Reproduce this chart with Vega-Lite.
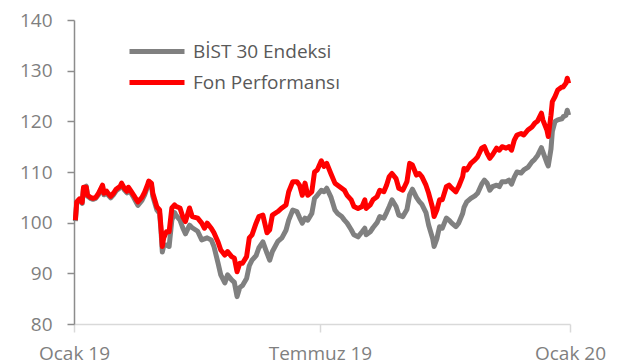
{
  "$schema": "https://vega.github.io/schema/vega-lite/v6.json",
  "width": 496,
  "height": 304,
  "autosize": "none",
  "padding": {"left": 74, "top": 20, "right": 48, "bottom": 40},
  "background": "#ffffff",
  "config": {
    "view": {"stroke": null},
    "font": "Open Sans"
  },
  "data": {
    "values": [
      {"tarih": "2019-01-02", "BİST 30 Endeksi": 100.3, "Fon Performansı": 100.5},
      {"tarih": "2019-01-03", "BİST 30 Endeksi": 103.8, "Fon Performansı": 104.1},
      {"tarih": "2019-01-05", "BİST 30 Endeksi": 104.4, "Fon Performansı": 104.7},
      {"tarih": "2019-01-07", "BİST 30 Endeksi": 103.8, "Fon Performansı": 104.0},
      {"tarih": "2019-01-08", "BİST 30 Endeksi": 106.8, "Fon Performansı": 107.0},
      {"tarih": "2019-01-10", "BİST 30 Endeksi": 107.2, "Fon Performansı": 107.0},
      {"tarih": "2019-01-11", "BİST 30 Endeksi": 105.2, "Fon Performansı": 105.4},
      {"tarih": "2019-01-13", "BİST 30 Endeksi": 104.8, "Fon Performansı": 105.0},
      {"tarih": "2019-01-15", "BİST 30 Endeksi": 104.6, "Fon Performansı": 104.8},
      {"tarih": "2019-01-17", "BİST 30 Endeksi": 104.8, "Fon Performansı": 105.0},
      {"tarih": "2019-01-19", "BİST 30 Endeksi": 105.5, "Fon Performansı": 105.8},
      {"tarih": "2019-01-22", "BİST 30 Endeksi": 107.2, "Fon Performansı": 107.4},
      {"tarih": "2019-01-23", "BİST 30 Endeksi": 105.5, "Fon Performansı": 105.8},
      {"tarih": "2019-01-25", "BİST 30 Endeksi": 106.0, "Fon Performansı": 106.2},
      {"tarih": "2019-01-26", "BİST 30 Endeksi": 105.5, "Fon Performansı": 105.8},
      {"tarih": "2019-01-28", "BİST 30 Endeksi": 104.9, "Fon Performansı": 105.2},
      {"tarih": "2019-01-30", "BİST 30 Endeksi": 105.5, "Fon Performansı": 105.8},
      {"tarih": "2019-02-01", "BİST 30 Endeksi": 106.3, "Fon Performansı": 106.6},
      {"tarih": "2019-02-04", "BİST 30 Endeksi": 106.9, "Fon Performansı": 107.2},
      {"tarih": "2019-02-05", "BİST 30 Endeksi": 107.5, "Fon Performansı": 107.8},
      {"tarih": "2019-02-07", "BİST 30 Endeksi": 106.5, "Fon Performansı": 106.8},
      {"tarih": "2019-02-09", "BİST 30 Endeksi": 105.9, "Fon Performansı": 106.2},
      {"tarih": "2019-02-10", "BİST 30 Endeksi": 106.6, "Fon Performansı": 107.0},
      {"tarih": "2019-02-12", "BİST 30 Endeksi": 105.8, "Fon Performansı": 106.2},
      {"tarih": "2019-02-14", "BİST 30 Endeksi": 104.9, "Fon Performansı": 105.4},
      {"tarih": "2019-02-16", "BİST 30 Endeksi": 103.9, "Fon Performansı": 104.5},
      {"tarih": "2019-02-17", "BİST 30 Endeksi": 103.4, "Fon Performansı": 104.1},
      {"tarih": "2019-02-20", "BİST 30 Endeksi": 104.4, "Fon Performansı": 105.0},
      {"tarih": "2019-02-22", "BİST 30 Endeksi": 105.5, "Fon Performansı": 106.0},
      {"tarih": "2019-02-24", "BİST 30 Endeksi": 107.0, "Fon Performansı": 107.4},
      {"tarih": "2019-02-25", "BİST 30 Endeksi": 107.6, "Fon Performansı": 108.2},
      {"tarih": "2019-02-27", "BİST 30 Endeksi": 107.3, "Fon Performansı": 107.8},
      {"tarih": "2019-02-28", "BİST 30 Endeksi": 105.2, "Fon Performansı": 105.8},
      {"tarih": "2019-03-03", "BİST 30 Endeksi": 102.5, "Fon Performansı": 103.1},
      {"tarih": "2019-03-05", "BİST 30 Endeksi": 101.8, "Fon Performansı": 102.5},
      {"tarih": "2019-03-06", "BİST 30 Endeksi": 98.5, "Fon Performansı": 99.1},
      {"tarih": "2019-03-07", "BİST 30 Endeksi": 94.2, "Fon Performansı": 95.3},
      {"tarih": "2019-03-08", "BİST 30 Endeksi": 95.4, "Fon Performansı": 97.0},
      {"tarih": "2019-03-10", "BİST 30 Endeksi": 95.6, "Fon Performansı": 98.2},
      {"tarih": "2019-03-12", "BİST 30 Endeksi": 95.3, "Fon Performansı": 98.2},
      {"tarih": "2019-03-14", "BİST 30 Endeksi": 100.5, "Fon Performansı": 102.9},
      {"tarih": "2019-03-16", "BİST 30 Endeksi": 102.0, "Fon Performansı": 103.5},
      {"tarih": "2019-03-17", "BİST 30 Endeksi": 101.5, "Fon Performansı": 103.2},
      {"tarih": "2019-03-20", "BİST 30 Endeksi": 100.5, "Fon Performansı": 102.9},
      {"tarih": "2019-03-22", "BİST 30 Endeksi": 99.0, "Fon Performansı": 101.2},
      {"tarih": "2019-03-24", "BİST 30 Endeksi": 97.8, "Fon Performansı": 100.2},
      {"tarih": "2019-03-27", "BİST 30 Endeksi": 99.5, "Fon Performansı": 102.9},
      {"tarih": "2019-03-29", "BİST 30 Endeksi": 99.0, "Fon Performansı": 101.2},
      {"tarih": "2019-04-02", "BİST 30 Endeksi": 98.3, "Fon Performansı": 100.9},
      {"tarih": "2019-04-05", "BİST 30 Endeksi": 96.6, "Fon Performansı": 99.9},
      {"tarih": "2019-04-07", "BİST 30 Endeksi": 96.8, "Fon Performansı": 98.9},
      {"tarih": "2019-04-09", "BİST 30 Endeksi": 97.0, "Fon Performansı": 99.9},
      {"tarih": "2019-04-12", "BİST 30 Endeksi": 96.6, "Fon Performansı": 98.9},
      {"tarih": "2019-04-14", "BİST 30 Endeksi": 95.3, "Fon Performansı": 98.0},
      {"tarih": "2019-04-17", "BİST 30 Endeksi": 92.0, "Fon Performansı": 96.2},
      {"tarih": "2019-04-19", "BİST 30 Endeksi": 89.7, "Fon Performansı": 94.6},
      {"tarih": "2019-04-22", "BİST 30 Endeksi": 88.1, "Fon Performansı": 93.6},
      {"tarih": "2019-04-24", "BİST 30 Endeksi": 89.7, "Fon Performansı": 94.3},
      {"tarih": "2019-04-27", "BİST 30 Endeksi": 88.7, "Fon Performansı": 93.3},
      {"tarih": "2019-04-29", "BİST 30 Endeksi": 88.2, "Fon Performansı": 93.0},
      {"tarih": "2019-05-01", "BİST 30 Endeksi": 85.4, "Fon Performansı": 90.3},
      {"tarih": "2019-05-03", "BİST 30 Endeksi": 87.2, "Fon Performansı": 92.0},
      {"tarih": "2019-05-05", "BİST 30 Endeksi": 87.6, "Fon Performansı": 92.0},
      {"tarih": "2019-05-08", "BİST 30 Endeksi": 89.0, "Fon Performansı": 93.3},
      {"tarih": "2019-05-10", "BİST 30 Endeksi": 91.5, "Fon Performansı": 97.0},
      {"tarih": "2019-05-12", "BİST 30 Endeksi": 92.6, "Fon Performansı": 97.6},
      {"tarih": "2019-05-15", "BİST 30 Endeksi": 93.5, "Fon Performansı": 99.9},
      {"tarih": "2019-05-17", "BİST 30 Endeksi": 95.0, "Fon Performansı": 101.2},
      {"tarih": "2019-05-20", "BİST 30 Endeksi": 96.2, "Fon Performansı": 101.5},
      {"tarih": "2019-05-23", "BİST 30 Endeksi": 94.0, "Fon Performansı": 98.0},
      {"tarih": "2019-05-25", "BİST 30 Endeksi": 92.6, "Fon Performansı": 98.6},
      {"tarih": "2019-05-27", "BİST 30 Endeksi": 94.3, "Fon Performansı": 101.5},
      {"tarih": "2019-05-31", "BİST 30 Endeksi": 96.3, "Fon Performansı": 102.2},
      {"tarih": "2019-06-03", "BİST 30 Endeksi": 97.0, "Fon Performansı": 102.9},
      {"tarih": "2019-06-06", "BİST 30 Endeksi": 98.5, "Fon Performansı": 103.5},
      {"tarih": "2019-06-08", "BİST 30 Endeksi": 100.5, "Fon Performansı": 106.1},
      {"tarih": "2019-06-11", "BİST 30 Endeksi": 102.5, "Fon Performansı": 108.1},
      {"tarih": "2019-06-14", "BİST 30 Endeksi": 102.2, "Fon Performansı": 108.1},
      {"tarih": "2019-06-16", "BİST 30 Endeksi": 101.0, "Fon Performansı": 107.4},
      {"tarih": "2019-06-18", "BİST 30 Endeksi": 99.9, "Fon Performansı": 105.4},
      {"tarih": "2019-06-20", "BİST 30 Endeksi": 100.9, "Fon Performansı": 107.8},
      {"tarih": "2019-06-22", "BİST 30 Endeksi": 100.5, "Fon Performansı": 105.4},
      {"tarih": "2019-06-25", "BİST 30 Endeksi": 101.8, "Fon Performansı": 106.1},
      {"tarih": "2019-06-27", "BİST 30 Endeksi": 104.8, "Fon Performansı": 110.0},
      {"tarih": "2019-06-29", "BİST 30 Endeksi": 105.4, "Fon Performansı": 110.4},
      {"tarih": "2019-07-02", "BİST 30 Endeksi": 106.4, "Fon Performansı": 112.2},
      {"tarih": "2019-07-04", "BİST 30 Endeksi": 106.1, "Fon Performansı": 111.1},
      {"tarih": "2019-07-06", "BİST 30 Endeksi": 106.8, "Fon Performansı": 111.7},
      {"tarih": "2019-07-09", "BİST 30 Endeksi": 105.1, "Fon Performansı": 109.7},
      {"tarih": "2019-07-12", "BİST 30 Endeksi": 102.5, "Fon Performansı": 107.8},
      {"tarih": "2019-07-14", "BİST 30 Endeksi": 101.8, "Fon Performansı": 107.4},
      {"tarih": "2019-07-17", "BİST 30 Endeksi": 101.2, "Fon Performansı": 106.8},
      {"tarih": "2019-07-19", "BİST 30 Endeksi": 100.5, "Fon Performansı": 106.4},
      {"tarih": "2019-07-21", "BİST 30 Endeksi": 99.9, "Fon Performansı": 105.4},
      {"tarih": "2019-07-24", "BİST 30 Endeksi": 98.6, "Fon Performansı": 104.5},
      {"tarih": "2019-07-26", "BİST 30 Endeksi": 97.6, "Fon Performansı": 103.2},
      {"tarih": "2019-07-29", "BİST 30 Endeksi": 97.2, "Fon Performansı": 102.8},
      {"tarih": "2019-08-01", "BİST 30 Endeksi": 98.2, "Fon Performansı": 103.2},
      {"tarih": "2019-08-03", "BİST 30 Endeksi": 98.9, "Fon Performansı": 104.5},
      {"tarih": "2019-08-04", "BİST 30 Endeksi": 97.6, "Fon Performansı": 102.8},
      {"tarih": "2019-08-07", "BİST 30 Endeksi": 98.2, "Fon Performansı": 103.5},
      {"tarih": "2019-08-09", "BİST 30 Endeksi": 99.0, "Fon Performansı": 104.5},
      {"tarih": "2019-08-12", "BİST 30 Endeksi": 100.0, "Fon Performansı": 105.1},
      {"tarih": "2019-08-14", "BİST 30 Endeksi": 101.2, "Fon Performansı": 106.4},
      {"tarih": "2019-08-17", "BİST 30 Endeksi": 100.9, "Fon Performansı": 106.1},
      {"tarih": "2019-08-19", "BİST 30 Endeksi": 102.0, "Fon Performansı": 107.4},
      {"tarih": "2019-08-21", "BİST 30 Endeksi": 103.2, "Fon Performansı": 109.1},
      {"tarih": "2019-08-23", "BİST 30 Endeksi": 104.5, "Fon Performansı": 109.7},
      {"tarih": "2019-08-26", "BİST 30 Endeksi": 103.2, "Fon Performansı": 108.7},
      {"tarih": "2019-08-28", "BİST 30 Endeksi": 101.5, "Fon Performansı": 106.8},
      {"tarih": "2019-08-31", "BİST 30 Endeksi": 101.2, "Fon Performansı": 106.4},
      {"tarih": "2019-09-03", "BİST 30 Endeksi": 102.6, "Fon Performansı": 108.1},
      {"tarih": "2019-09-05", "BİST 30 Endeksi": 105.5, "Fon Performansı": 111.7},
      {"tarih": "2019-09-07", "BİST 30 Endeksi": 106.6, "Fon Performansı": 111.4},
      {"tarih": "2019-09-10", "BİST 30 Endeksi": 105.0, "Fon Performansı": 109.4},
      {"tarih": "2019-09-12", "BİST 30 Endeksi": 104.2, "Fon Performansı": 109.7},
      {"tarih": "2019-09-14", "BİST 30 Endeksi": 103.6, "Fon Performansı": 109.1},
      {"tarih": "2019-09-17", "BİST 30 Endeksi": 102.0, "Fon Performansı": 107.4},
      {"tarih": "2019-09-19", "BİST 30 Endeksi": 99.5, "Fon Performansı": 105.8},
      {"tarih": "2019-09-22", "BİST 30 Endeksi": 96.8, "Fon Performansı": 102.8},
      {"tarih": "2019-09-23", "BİST 30 Endeksi": 95.3, "Fon Performansı": 101.2},
      {"tarih": "2019-09-25", "BİST 30 Endeksi": 96.8, "Fon Performansı": 102.5},
      {"tarih": "2019-09-27", "BİST 30 Endeksi": 99.2, "Fon Performansı": 104.5},
      {"tarih": "2019-09-29", "BİST 30 Endeksi": 98.9, "Fon Performansı": 104.5},
      {"tarih": "2019-10-02", "BİST 30 Endeksi": 100.9, "Fon Performansı": 107.1},
      {"tarih": "2019-10-04", "BİST 30 Endeksi": 100.5, "Fon Performansı": 107.4},
      {"tarih": "2019-10-06", "BİST 30 Endeksi": 99.9, "Fon Performansı": 106.8},
      {"tarih": "2019-10-09", "BİST 30 Endeksi": 99.2, "Fon Performansı": 106.1},
      {"tarih": "2019-10-11", "BİST 30 Endeksi": 99.9, "Fon Performansı": 107.1},
      {"tarih": "2019-10-14", "BİST 30 Endeksi": 101.8, "Fon Performansı": 109.1},
      {"tarih": "2019-10-15", "BİST 30 Endeksi": 103.0, "Fon Performansı": 110.7},
      {"tarih": "2019-10-17", "BİST 30 Endeksi": 104.1, "Fon Performansı": 110.4},
      {"tarih": "2019-10-20", "BİST 30 Endeksi": 104.8, "Fon Performansı": 111.7},
      {"tarih": "2019-10-23", "BİST 30 Endeksi": 105.3, "Fon Performansı": 112.4},
      {"tarih": "2019-10-25", "BİST 30 Endeksi": 105.8, "Fon Performansı": 113.0},
      {"tarih": "2019-10-28", "BİST 30 Endeksi": 107.6, "Fon Performansı": 114.7},
      {"tarih": "2019-10-30", "BİST 30 Endeksi": 108.4, "Fon Performansı": 115.0},
      {"tarih": "2019-11-01", "BİST 30 Endeksi": 107.8, "Fon Performansı": 113.7},
      {"tarih": "2019-11-03", "BİST 30 Endeksi": 106.4, "Fon Performansı": 112.7},
      {"tarih": "2019-11-05", "BİST 30 Endeksi": 107.1, "Fon Performansı": 113.4},
      {"tarih": "2019-11-08", "BİST 30 Endeksi": 107.4, "Fon Performansı": 114.7},
      {"tarih": "2019-11-10", "BİST 30 Endeksi": 107.1, "Fon Performansı": 114.3},
      {"tarih": "2019-11-12", "BİST 30 Endeksi": 108.1, "Fon Performansı": 115.0},
      {"tarih": "2019-11-15", "BİST 30 Endeksi": 108.1, "Fon Performansı": 114.7},
      {"tarih": "2019-11-17", "BİST 30 Endeksi": 108.4, "Fon Performansı": 115.0},
      {"tarih": "2019-11-19", "BİST 30 Endeksi": 107.6, "Fon Performansı": 114.3},
      {"tarih": "2019-11-21", "BİST 30 Endeksi": 109.0, "Fon Performansı": 116.3},
      {"tarih": "2019-11-23", "BİST 30 Endeksi": 110.0, "Fon Performansı": 117.3},
      {"tarih": "2019-11-26", "BİST 30 Endeksi": 109.8, "Fon Performansı": 117.6},
      {"tarih": "2019-11-28", "BİST 30 Endeksi": 110.4, "Fon Performansı": 117.3},
      {"tarih": "2019-12-01", "BİST 30 Endeksi": 110.9, "Fon Performansı": 118.3},
      {"tarih": "2019-12-04", "BİST 30 Endeksi": 112.0, "Fon Performansı": 118.9},
      {"tarih": "2019-12-06", "BİST 30 Endeksi": 112.5, "Fon Performansı": 119.6},
      {"tarih": "2019-12-08", "BİST 30 Endeksi": 113.2, "Fon Performansı": 120.0},
      {"tarih": "2019-12-11", "BİST 30 Endeksi": 114.8, "Fon Performansı": 121.6},
      {"tarih": "2019-12-12", "BİST 30 Endeksi": 114.0, "Fon Performansı": 120.3},
      {"tarih": "2019-12-15", "BİST 30 Endeksi": 111.8, "Fon Performansı": 118.3},
      {"tarih": "2019-12-16", "BİST 30 Endeksi": 111.2, "Fon Performansı": 117.0},
      {"tarih": "2019-12-18", "BİST 30 Endeksi": 114.5, "Fon Performansı": 121.2},
      {"tarih": "2019-12-19", "BİST 30 Endeksi": 118.0, "Fon Performansı": 123.9},
      {"tarih": "2019-12-21", "BİST 30 Endeksi": 120.0, "Fon Performansı": 124.9},
      {"tarih": "2019-12-23", "BİST 30 Endeksi": 120.3, "Fon Performansı": 126.2},
      {"tarih": "2019-12-26", "BİST 30 Endeksi": 120.5, "Fon Performansı": 126.8},
      {"tarih": "2019-12-27", "BİST 30 Endeksi": 120.9, "Fon Performansı": 126.8},
      {"tarih": "2019-12-29", "BİST 30 Endeksi": 121.2, "Fon Performansı": 127.5},
      {"tarih": "2019-12-30", "BİST 30 Endeksi": 122.2, "Fon Performansı": 128.5},
      {"tarih": "2019-12-31", "BİST 30 Endeksi": 121.2, "Fon Performansı": 127.5}
    ]
  },
  "transform": [
    {"fold": ["BİST 30 Endeksi", "Fon Performansı"], "as": ["seri", "deger"]}
  ],
  "mark": {"type": "line", "strokeWidth": 5, "strokeJoin": "round", "strokeCap": "butt"},
  "encoding": {
    "x": {
      "field": "tarih",
      "type": "temporal",
      "scale": {
        "type": "utc",
        "domain": [
          {"year": 2019, "month": 1, "date": 1, "utc": true},
          {"year": 2020, "month": 1, "date": 1, "utc": true}
        ]
      },
      "axis": {
        "title": null,
        "grid": false,
        "values": [
          {"year": 2019, "month": 1, "date": 1, "utc": true},
          {"year": 2019, "month": 7, "date": 1, "utc": true},
          {"year": 2020, "month": 1, "date": 1, "utc": true}
        ],
        "labelExpr": "(utcFormat(datum.value, '%m') == '01' ? 'Ocak ' : 'Temmuz ') + utcFormat(datum.value, '%y')",
        "domainColor": "#d9d9d9",
        "domainWidth": 1.5,
        "tickColor": "#d9d9d9",
        "tickWidth": 1.5,
        "tickSize": 8,
        "labelFont": "Open Sans",
        "labelFontSize": 19,
        "labelColor": "#7f7f7f",
        "labelPadding": 12,
        "labelFlush": false,
        "labelOverlap": false,
        "labelBound": false
      }
    },
    "y": {
      "field": "deger",
      "type": "quantitative",
      "scale": {"domain": [80, 140], "zero": false, "nice": false},
      "axis": {
        "title": null,
        "grid": false,
        "values": [80, 90, 100, 110, 120, 130, 140],
        "domainColor": "#8c8c8c",
        "domainWidth": 1.5,
        "tickColor": "#8c8c8c",
        "tickWidth": 1.5,
        "tickSize": 7,
        "labelFont": "Open Sans",
        "labelFontSize": 19,
        "labelColor": "#7f7f7f",
        "labelPadding": 15
      }
    },
    "color": {
      "field": "seri",
      "type": "nominal",
      "scale": {
        "domain": ["BİST 30 Endeksi", "Fon Performansı"],
        "range": ["#808080", "#ff0000"]
      },
      "legend": {
        "title": null,
        "orient": "none",
        "legendX": 53,
        "legendY": 16,
        "padding": 0,
        "symbolType": "stroke",
        "symbolSize": 3025,
        "symbolStrokeWidth": 5,
        "labelFont": "Open Sans",
        "labelFontSize": 19,
        "labelColor": "#595959",
        "labelOffset": 6,
        "clipHeight": 31,
        "rowPadding": 0
      }
    }
  }
}
